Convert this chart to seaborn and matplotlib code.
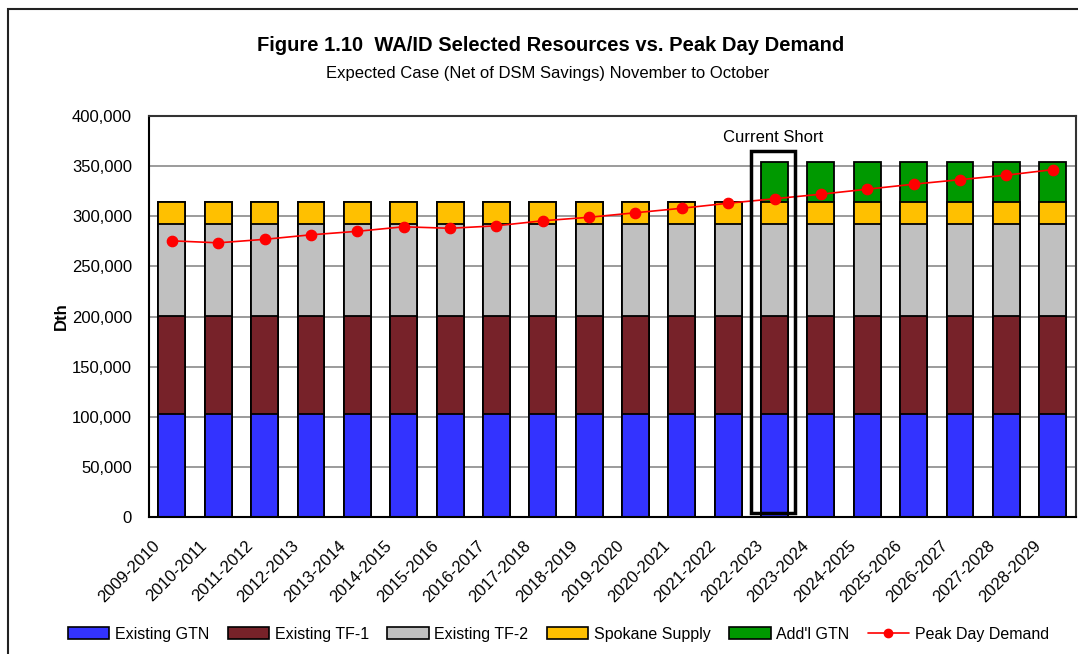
import numpy as np
import pandas as pd
import matplotlib
matplotlib.use("Agg")
import matplotlib.pyplot as plt
from matplotlib.patches import Patch, Rectangle
from matplotlib.lines import Line2D
from matplotlib.ticker import FuncFormatter, MultipleLocator
import seaborn as sns

# --- data ---
years = ['2009-2010', '2010-2011', '2011-2012', '2012-2013', '2013-2014',
         '2014-2015', '2015-2016', '2016-2017', '2017-2018', '2018-2019',
         '2019-2020', '2020-2021', '2021-2022', '2022-2023', '2023-2024',
         '2024-2025', '2025-2026', '2026-2027', '2027-2028', '2028-2029']
existing_gtn = [102500] * 20
existing_tf1 = [98000] * 20
existing_tf2 = [92000] * 20
spokane_supply = [22000] * 20
addl_gtn = [0] * 13 + [40000] * 7
peak_demand = [275500, 273500, 277000, 281500, 285000, 289500, 288000, 290500,
               295500, 299000, 303500, 308000, 313000, 317500, 322000, 327000,
               332000, 336500, 341000, 346500]

series_names = ['Existing GTN', 'Existing TF-1', 'Existing TF-2',
                'Spokane Supply', "Add'l GTN"]
series_colors = ['#3333FF', '#772229', '#C0C0C0', '#FFC000', '#009900']

sns.set_style('white')
plt.rcParams['font.family'] = ['Liberation Sans', 'DejaVu Sans']
plt.rcParams['text.color'] = 'black'
plt.rcParams['axes.labelcolor'] = 'black'
plt.rcParams['xtick.color'] = 'black'
plt.rcParams['ytick.color'] = 'black'

df = pd.DataFrame({'year': years, 'Existing GTN': existing_gtn,
                   'Existing TF-1': existing_tf1, 'Existing TF-2': existing_tf2,
                   'Spokane Supply': spokane_supply, "Add'l GTN": addl_gtn})
cum = df[series_names].cumsum(axis=1)

fig = plt.figure(figsize=(10.78, 6.54), dpi=100)
ax = fig.add_axes([0.138, 0.2095, 0.86, 0.6131])

# stacked look: draw cumulative totals from the top layer down
for name, col in reversed(list(zip(series_names, series_colors))):
    sns.barplot(x=df['year'], y=cum[name], color=col, saturation=1, width=0.58,
                edgecolor='black', linewidth=1.3, ax=ax, zorder=2)

sns.pointplot(x=years, y=peak_demand, color='#FF0000', markers='o',
              markersize=7.5, linewidth=1.2, ax=ax, zorder=5)

ax.set_xlim(-0.5, 19.5)
ax.set_ylim(0, 400000)
ax.yaxis.set_major_locator(MultipleLocator(50000))
ax.yaxis.set_major_formatter(FuncFormatter(lambda v, p: f'{int(v):,}'))
ax.grid(axis='y', color='#808080', linewidth=1.1, zorder=0)
ax.set_axisbelow(True)

# labels sit a bit left of the category centre, like the Excel original
ax.set_xticks(np.arange(20) - 0.42)
ax.set_xticklabels(years, rotation=45, ha='right', rotation_mode='anchor', fontsize=12)
ax.set_xticks(np.arange(-0.5, 20, 1), minor=True)
ax.tick_params(axis='x', which='major', length=0, pad=15)
ax.tick_params(axis='x', which='minor', length=5, width=1.3, direction='out')
ax.tick_params(axis='y', length=5, width=1.3, direction='out', labelsize=12, pad=7)
ax.set_xlabel('')
ax.set_ylabel('Dth', fontsize=12, fontweight='bold', labelpad=2)
for side in ['left', 'bottom']:
    ax.spines[side].set_color('black')
    ax.spines[side].set_linewidth(1.5)
for side in ['top', 'right']:
    ax.spines[side].set_color('#333333')
    ax.spines[side].set_linewidth(1.5)

# current short box
ax.add_patch(Rectangle((12.49, 4000), 0.96, 361500, fill=False,
                       edgecolor='black', linewidth=2.5, zorder=6))
ax.text(12.98, 371000, 'Current Short', ha='center', va='bottom', fontsize=12)

fig.text(0.511, 0.93, 'Figure 1.10  WA/ID Selected Resources vs. Peak Day Demand',
         ha='center', va='center', fontsize=14.5, fontweight='bold')
fig.text(0.508, 0.887, 'Expected Case (Net of DSM Savings) November to October',
         ha='center', va='center', fontsize=12)

handles = [Patch(facecolor=c, edgecolor='black', linewidth=1.2) for c in series_colors]
handles.append(Line2D([0], [0], color='#FF0000', marker='o', markersize=6, linewidth=1.2))
fig.legend(handles, series_names + ['Peak Day Demand'], loc='center',
           bbox_to_anchor=(0.518, 0.03), ncol=6, frameon=False, fontsize=11.5,
           handlelength=2.6, handleheight=0.8, handletextpad=0.35, columnspacing=1.15)

# outer frame
fig.patches.append(Rectangle((0.007, -0.1), 1.1, 1.0855, transform=fig.transFigure,
                             fill=False, edgecolor='#222222', linewidth=1.5))

fig.savefig('out.png', dpi=100)
